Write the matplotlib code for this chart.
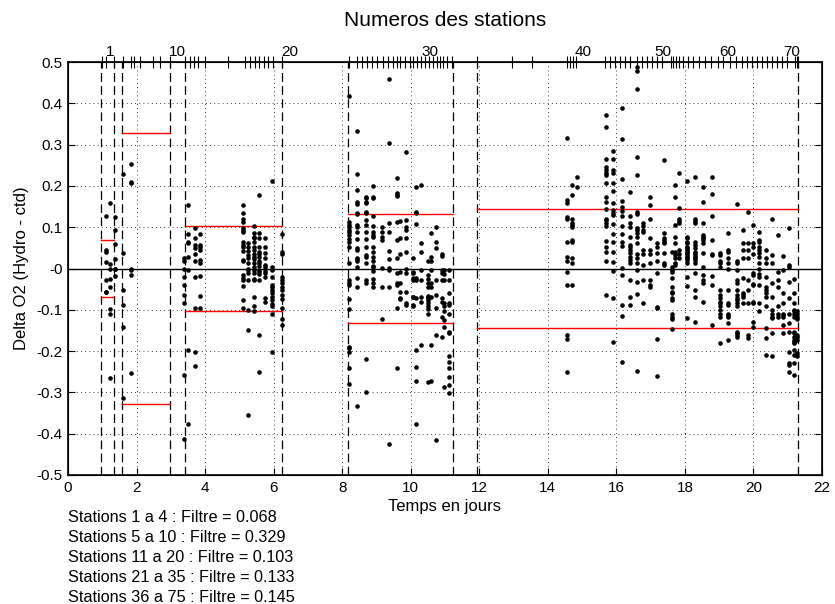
import matplotlib
matplotlib.use("Agg")
import matplotlib.pyplot as plt
import numpy as np

plt.rcParams['font.family'] = ['Liberation Sans', 'DejaVu Sans']
plt.rcParams['axes.unicode_minus'] = False

# ---------------- data ----------------
group_labels = ["Stations 1 a 4", "Stations 5 a 10", "Stations 11 a 20",
                "Stations 21 a 35", "Stations 36 a 75"]
filter_vals = [0.068, 0.329, 0.103, 0.133, 0.145]
group_start = [0.96, 1.58, 3.41, 8.17, 11.93]
group_end = [1.34, 2.98, 6.24, 11.23, 21.30]

# column times (days) and delta O2 values for each column
g1_t = [1.10, 1.23, 1.37]
g1_y = [[0.128, 0.046, 0.040, 0.015, -0.028, -0.056, -0.058],
        [0.159, 0.010, 0.000, -0.026, -0.046, -0.099, -0.111, -0.266],
        [0.124, 0.093, 0.059, 0.023, 0.000, -0.002, -0.018]]

g2_t = [1.60, 1.83]
g2_y = [[0.229, 0.037, -0.052, -0.088, -0.141, -0.314],
        [0.253, 0.209, 0.206, 0.000, -0.004, -0.016, -0.254]]

g3_t = [3.39, 3.51, 3.71, 3.85, 5.10, 5.26, 5.43, 5.58, 5.75, 5.96, 6.25]
g3_y = [[0.025, 0.017, 0.000, -0.020, -0.040, -0.064, -0.084, -0.259, -0.413],
        [0.154, 0.084, 0.065, 0.061, 0.029, -0.004, -0.197, -0.376],
        [0.097, 0.073, 0.057, 0.049, 0.035, 0.019, -0.020, -0.096, -0.201, -0.235],
        [0.083, 0.057, 0.053, 0.046, 0.021, 0.013, -0.018, -0.066, -0.095],
        [0.154, 0.134, 0.121, 0.113, 0.097, 0.093, 0.089, 0.063, 0.057, 0.051,
         0.043, 0.021, 0.017, -0.016, -0.022, -0.028, -0.042, -0.076, -0.095],
        [0.061, 0.053, 0.042, 0.033, 0.025, 0.013, 0.000, -0.004, -0.012, -0.028,
         -0.100, -0.149, -0.355],
        [0.104, 0.085, 0.077, 0.073, 0.065, 0.053, 0.045, 0.035, 0.029, 0.022,
         0.014, 0.004, -0.004, -0.012, -0.025, -0.028, -0.068, -0.091, -0.104],
        [0.178, 0.087, 0.073, 0.053, 0.041, 0.035, 0.027, 0.017, 0.013, 0.006,
         -0.004, -0.008, -0.013, -0.028, -0.161, -0.250],
        [0.075, 0.053, 0.037, 0.025, 0.008, 0.003, -0.006, -0.012, -0.020, -0.072, -0.080],
        [0.212, 0.004, -0.004, -0.020, -0.040, -0.044, -0.052, -0.060, -0.068, -0.076,
         -0.086, -0.092, -0.109, -0.201],
        [0.084, 0.041, 0.035, -0.020, -0.028, -0.036, -0.044, -0.052, -0.064, -0.075,
         -0.096, -0.123, -0.137]]

g4_t = [8.21, 8.44, 8.69, 8.91, 9.15, 9.37, 9.60, 9.69, 9.86, 10.07, 10.15, 10.30,
        10.50, 10.58, 10.74, 10.91, 10.97, 11.13]
g4_y = [[0.418, 0.113, 0.105, 0.101, 0.093, 0.089, 0.081, 0.071, 0.065, 0.053, 0.013,
         -0.028, -0.036, -0.040, -0.075, -0.099, -0.189, -0.193, -0.201, -0.242, -0.280],
        [0.333, 0.230, 0.190, 0.162, 0.156, 0.134, 0.131, 0.105, 0.101, 0.089, 0.071,
         0.049, 0.045, 0.025, 0.022, 0.019, 0.003, -0.024, -0.046, -0.333],
        [0.174, 0.170, 0.162, 0.158, 0.138, 0.134, 0.117, 0.105, 0.089, 0.071, 0.053,
         0.033, 0.029, 0.013, -0.028, -0.036, -0.220, -0.300],
        [0.200, 0.174, 0.170, 0.127, 0.103, 0.089, 0.081, 0.077, 0.053, 0.041, 0.029,
         0.017, 0.006, 0.004, -0.005, -0.026, -0.036, -0.046],
        [0.101, 0.089, 0.077, 0.069, 0.002, -0.046, -0.123],
        [0.458, 0.305, 0.111, 0.089, 0.042, 0.022, 0.002, -0.004, -0.046, -0.425],
        [0.218, 0.182, 0.178, 0.176, 0.113, 0.069, 0.025, -0.010, -0.036, -0.040,
         -0.096, -0.242],
        [0.115, 0.073, 0.035, -0.008, -0.036, -0.056, -0.072, -0.075],
        [0.283, 0.117, 0.101, 0.093, 0.073, 0.041, -0.002, -0.010, -0.056, -0.084, -0.088],
        [0.025, -0.008, -0.012, -0.024, -0.029, -0.068, -0.070, -0.088, -0.092],
        [0.198, 0.138, 0.134, 0.108, -0.024, -0.028, -0.072, -0.197, -0.239, -0.272, -0.376],
        [0.202, 0.061, 0.041, -0.004, -0.028, -0.070, -0.080, -0.185],
        [0.018, -0.016, -0.026, -0.036, -0.046, -0.067, -0.068, -0.072, -0.076, -0.084,
         -0.091, -0.099, -0.110, -0.276],
        [0.085, 0.029, 0.019, -0.004, -0.036, -0.046, -0.068, -0.185, -0.272],
        [0.101, 0.063, 0.049, -0.028, -0.064, -0.096, -0.161, -0.415],
        [0.035, 0.030, -0.004, -0.012, -0.028, -0.072, -0.080, -0.117, -0.167],
        [-0.004, -0.013, -0.028, -0.084, -0.092, -0.104, -0.125, -0.141, -0.286],
        [-0.004, -0.028, -0.060, -0.084, -0.088, -0.110, -0.153, -0.155, -0.212, -0.226,
         -0.242, -0.262, -0.282, -0.301]]

g5_t = [14.55, 14.71, 14.86, 15.70, 15.91, 16.17, 16.40, 16.59, 16.79, 16.98, 17.18,
        17.40, 17.62, 17.71, 17.84, 18.05, 18.28, 18.54, 18.78, 19.02, 19.25, 19.51,
        19.69, 19.85, 20.00, 20.16, 20.36, 20.55, 20.71, 20.87, 21.05, 21.18, 21.27]
g5_y = [[0.317, 0.167, 0.158, 0.125, 0.121, 0.063, 0.029, 0.017, -0.008, -0.040,
         -0.161, -0.171, -0.251],
        [0.202, 0.178, 0.119, 0.109, 0.105, 0.101, 0.069, 0.063, 0.025, 0.014, -0.040],
        [0.222, 0.198],
        [0.372, 0.342, 0.265, 0.245, 0.238, 0.232, 0.226, 0.208, 0.172, 0.162, 0.144,
         0.121, 0.117, 0.109, 0.103, 0.067, 0.053, 0.041, 0.017, -0.063],
        [0.285, 0.264, 0.238, 0.232, 0.206, 0.188, 0.159, 0.142, 0.134, 0.130, 0.107,
         0.084, 0.065, 0.041, 0.015, -0.005, -0.072, -0.177],
        [0.389, 0.314, 0.217, 0.163, 0.150, 0.139, 0.127, 0.103, 0.084, 0.063, 0.054,
         0.002, -0.016, -0.088, -0.114, -0.227],
        [0.186, 0.127, 0.111, 0.101, 0.077, 0.057, 0.053, 0.045, 0.037, 0.029, 0.021,
         0.013, -0.028, -0.068, -0.088],
        [0.489, 0.478, 0.434, 0.269, 0.226, 0.138, 0.132, 0.097, 0.093, 0.085, 0.077,
         0.061, 0.035, 0.025, 0.013, -0.004, -0.032, -0.062, -0.248],
        [0.111, 0.103, 0.093, 0.089, 0.045, 0.035, 0.008, -0.028, -0.084],
        [0.174, 0.154, 0.121, 0.073, 0.045, 0.035, 0.014, -0.028, -0.040, -0.046],
        [0.061, 0.053, 0.037, 0.017, -0.010, -0.094, -0.096, -0.171, -0.260],
        [0.263, 0.085, 0.073, 0.069, 0.065, 0.061, 0.037, 0.013, 0.008],
        [0.041, 0.004, -0.004, -0.008, -0.024, -0.044, -0.056, -0.060, -0.072, -0.076,
         -0.109, -0.117, -0.123, -0.147],
        [0.202, 0.174, 0.105, 0.077, 0.061, 0.041, 0.033, 0.025, 0.013, 0.008],
        [0.232, 0.146, 0.119, 0.116, 0.109, 0.045, 0.035, 0.025],
        [0.212, 0.077, 0.073, 0.065, 0.061, 0.053, 0.049, 0.045, 0.041, 0.037, 0.033,
         0.029, 0.025, 0.021, 0.013, -0.020, -0.042, -0.121],
        [0.221, 0.119, 0.116, 0.109, 0.063, 0.057, 0.049, 0.041, 0.037, 0.033, 0.029,
         0.025, 0.021, 0.013, -0.012, -0.052, -0.068, -0.129],
        [0.198, 0.162, 0.111, 0.081, 0.077, 0.073, 0.069, 0.061, 0.037, 0.004, -0.016,
         -0.028, -0.034, -0.080],
        [0.222, 0.180, 0.127, 0.069, 0.035, 0.033, -0.018, -0.040, -0.137],
        [0.037, 0.033, 0.017, 0.013, 0.004, -0.052, -0.064, -0.072, -0.080, -0.084,
         -0.092, -0.100, -0.109, -0.117, -0.181],
        [0.087, 0.046, 0.041, 0.025, 0.013, 0.000, -0.052, -0.084, -0.088, -0.109,
         -0.113, -0.117, -0.133, -0.173],
        [0.156, 0.017, 0.013, -0.004, -0.028, -0.036, -0.052, -0.064, -0.072, -0.076,
         -0.084, -0.092, -0.153, -0.157, -0.161, -0.165],
        [0.093, 0.061, 0.045, 0.025, -0.024, -0.060, -0.064, -0.068, -0.084],
        [0.136, 0.061, 0.045, 0.025, -0.028, -0.052, -0.084, -0.161, -0.169],
        [0.105, 0.061, 0.053, 0.035, -0.010, -0.016, -0.038, -0.040, -0.080, -0.084,
         -0.129, -0.141],
        [0.089, 0.069, 0.063, 0.053, 0.045, 0.037, 0.029, 0.013, 0.000, -0.013, -0.021,
         -0.040, -0.084, -0.104],
        [0.045, 0.025, 0.013, -0.020, -0.044, -0.052, -0.060, -0.068, -0.092, -0.145,
         -0.169, -0.209],
        [0.121, 0.033, 0.013, -0.036, -0.068, -0.100, -0.109, -0.117, -0.121, -0.157, -0.213],
        [0.081, -0.008, -0.028, -0.044, -0.092, -0.109, -0.117],
        [0.030, -0.004, -0.060, -0.084, -0.109, -0.113, -0.117, -0.137, -0.157],
        [0.097, 0.008, 0.004, -0.032, -0.072, -0.109, -0.133, -0.153, -0.201, -0.230,
         -0.234, -0.250],
        [-0.026, -0.060, -0.084, -0.100, -0.104, -0.109, -0.117, -0.153, -0.157, -0.165,
         -0.173, -0.177, -0.181, -0.197, -0.209, -0.230, -0.258],
        [-0.104, -0.109, -0.117, -0.123, -0.161, -0.165, -0.173, -0.205, -0.213]]

# station ticks on top axis (days)
station_ticks = [0.99, 1.11, 1.23, 1.34,
                 1.60, 1.83, 1.93, 2.10, 2.48, 2.68, 2.98,
                 3.41, 3.56, 3.68, 3.79, 4.00, 4.67, 5.16, 5.31, 5.46, 5.57, 5.72, 5.84, 5.98, 6.24,
                 8.20, 8.43, 8.58, 8.72, 8.87, 9.01, 9.19, 9.34, 9.48, 9.60, 9.69, 9.83, 9.98,
                 10.07, 10.18, 10.30, 10.42, 10.53, 10.65, 10.77, 10.86, 10.94, 11.06, 11.21,
                 11.93, 12.96, 13.54, 14.56, 14.65, 14.74, 14.82, 15.67, 15.82, 15.96, 16.11,
                 16.25, 16.40, 16.60, 16.75, 16.90, 17.04, 17.19, 17.33, 17.60, 17.66, 17.74,
                 17.83, 17.94, 18.09, 18.24, 18.41, 18.59, 18.76, 18.97, 19.11, 19.32, 19.49,
                 19.67, 19.81, 19.96, 20.10, 20.25, 20.40, 20.54, 20.69, 20.83, 20.98, 21.13,
                 21.21, 21.27, 21.30]
station_label_pos = [1.23, 3.18, 6.48, 10.56, 15.03, 17.36, 19.26, 21.13]
station_labels = ["1", "10", "20", "30", "40", "50", "60", "70"]

# ---------------- figure ----------------
W, H = 835, 604
fig = plt.figure(figsize=(W / 100, H / 100), dpi=100)
ax = fig.add_axes([68 / W, 1 - 475 / H, (822 - 68) / W, (475 - 62) / H])

ax.set_xlim(0, 22)
ax.set_ylim(-0.5, 0.5)
yt = np.round(np.arange(-0.5, 0.51, 0.1), 1)
ax.set_xticks(np.arange(0, 23, 2))
ax.set_yticks(yt)
ax.set_yticklabels([f"{v:g}" for v in yt])
ax.tick_params(direction='in', length=5, width=0.8, top=True, right=True,
               labelsize=11, pad=4)
ax.grid(True, linestyle=(0, (1, 4)), color='black', linewidth=0.6)
for s in ax.spines.values():
    s.set_linewidth(1.2)

# zero line
ax.axhline(0, color='black', linewidth=1.0, zorder=2)

# group limits (dashed) and filter lines
for i in range(len(filter_vals)):
    for xv in (group_start[i], group_end[i]):
        ax.axvline(xv, color='black', linestyle=(0, (7, 3.5)), linewidth=0.9, zorder=2)
    ax.plot([group_start[i], group_end[i]], [filter_vals[i], filter_vals[i]],
            color='red', linewidth=1.0, zorder=3)
    ax.plot([group_start[i], group_end[i]], [-filter_vals[i], -filter_vals[i]],
            color='red', linewidth=1.0, zorder=3)

# points
for ts, ys in ((g1_t, g1_y), (g2_t, g2_y), (g3_t, g3_y), (g4_t, g4_y), (g5_t, g5_y)):
    for t, yv in zip(ts, ys):
        ax.plot([t] * len(yv), yv, linestyle='none', marker='o', markersize=3.3,
                color='black', markeredgewidth=0, zorder=4)

ax.set_xlabel("Temps en jours", fontsize=12, labelpad=3)
ax.set_ylabel("Delta O2 (Hydro - ctd)", fontsize=12, labelpad=5)

# top axis: station numbers
axt = ax.twiny()
axt.set_xlim(ax.get_xlim())
axt.set_xticks(station_ticks, minor=True)
axt.set_xticks(station_label_pos)
axt.set_xticklabels(station_labels)
axt.tick_params(which='minor', direction='inout', length=8, width=0.8)
axt.tick_params(which='major', length=0, labelsize=11, pad=2)

fig.text(445 / W, 1 - 20 / H, "Numeros des stations", fontsize=15,
         ha='center', va='center')

# bottom text
for i in range(len(filter_vals)):
    fig.text(68 / W, 1 - (517 + 20 * i) / H,
             f"{group_labels[i]} : Filtre = {filter_vals[i]:.3f}",
             fontsize=11.7, ha='left', va='center')

fig.savefig("out.png", dpi=100)
